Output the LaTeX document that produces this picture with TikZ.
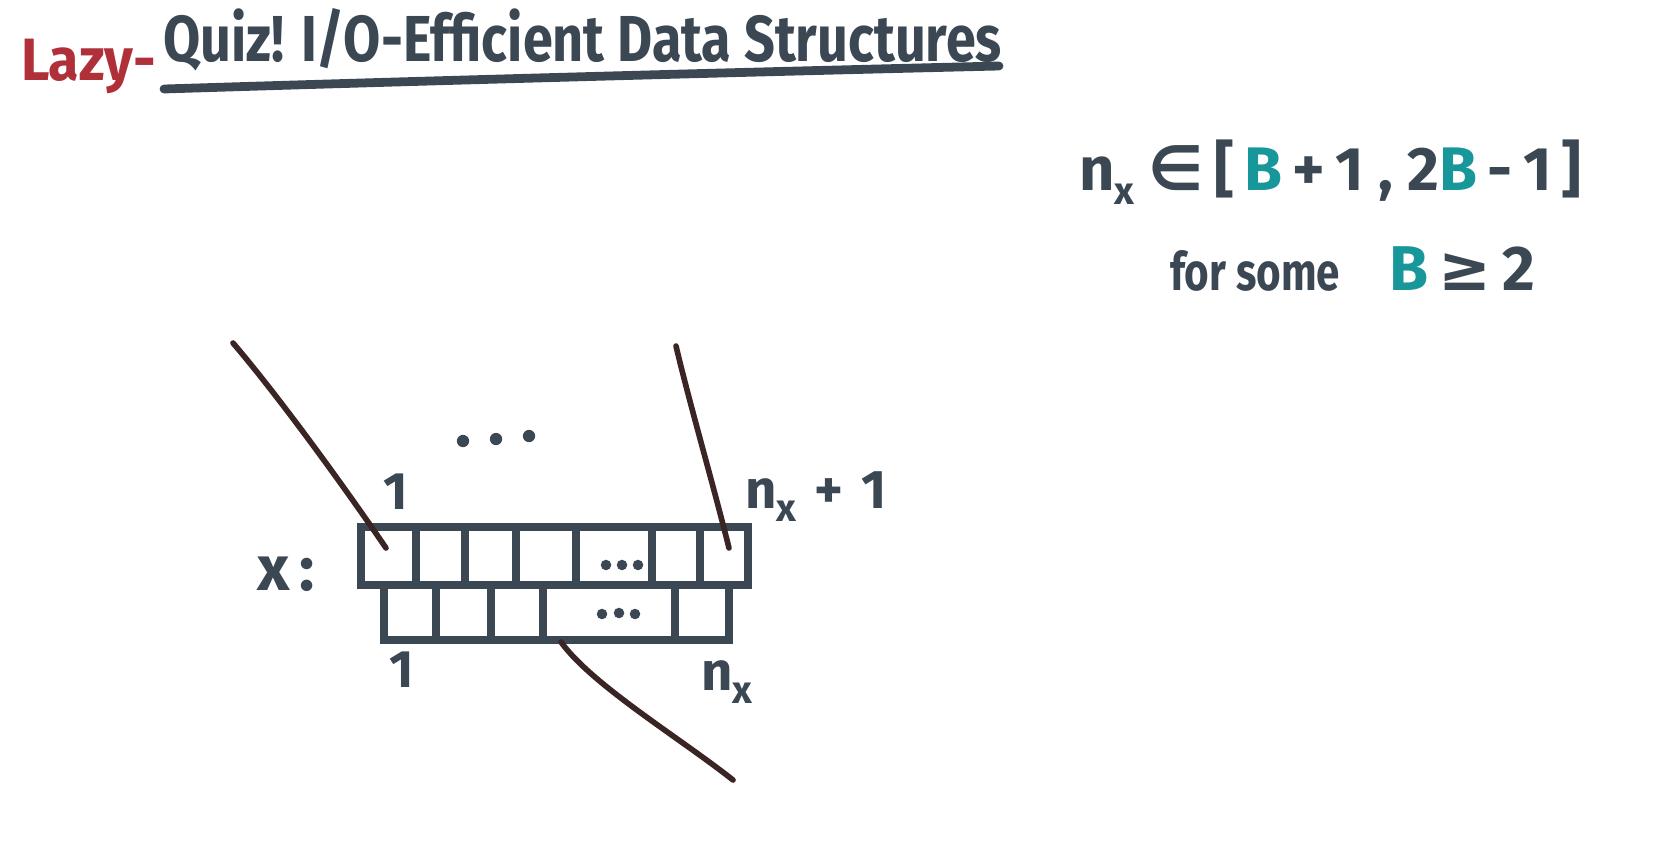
\documentclass[tikz,border=0pt]{standalone}
\usepackage{fontspec}
\setmainfont{Fira Sans}
\newfontfamily\symfont{DejaVu Sans}
\definecolor{ink}{HTML}{3B4753}
\definecolor{redink}{HTML}{B0303A}
\definecolor{tealink}{HTML}{17979A}
\definecolor{brownink}{HTML}{3A2424}
\newcommand{\nxsub}{n\raisebox{-0.45ex}{\fontsize{22}{24}\selectfont x}}
\tikzset{
  txt/.style={text=ink, inner sep=0pt, outer sep=0pt},
  cell/.style={draw=ink, line width=4pt, inner sep=0pt, outer sep=0pt, anchor=north west, text=ink},
  wire/.style={draw=brownink, line width=3.2pt, line cap=round},
  dot/.style={circle, fill=ink, inner sep=0pt, minimum size=6pt},
  bigdot/.style={circle, fill=ink, inner sep=0pt, minimum size=7pt},
}
\begin{document}
\begin{tikzpicture}[x=0.02cm, y=-0.02cm]
\useasboundingbox (0,0) rectangle (1653,856);
% title
\node[txt, text=redink, anchor=base west, font=\bfseries\fontsize{34}{38}\selectfont] (lazy) at (21,80) {\scalebox{0.93}[1]{Lazy-}};
\node[txt, anchor=base west, font=\bfseries\fontsize{37}{42}\selectfont] (title) at (163,61) {\scalebox{0.83}[1]{Quiz! I/O-Efficient Data Structures}};
\coordinate (ulA) at (164,89);
\coordinate (ulB) at (999,66);
\draw[ink, line width=5pt, line cap=round] (ulA) .. controls (450,80) and (750,72) .. (ulB);
% formula
\node[txt, anchor=base west, font=\bfseries\fontsize{35}{44}\selectfont] (f1) at (1079,190)
  {\nxsub\ {\symfont ∈}\,[\,{\color{tealink}B}\,+\,1\ ,\ 2{\color{tealink}B}\,-\,1\,]};
\node[txt, anchor=base west, font=\bfseries\fontsize{36}{44}\selectfont] (f2) at (1170,290)
  {\scalebox{0.8}[1]{\fontsize{30}{34}\selectfont for some}\hspace{28pt}{\color{tealink}B}\,{\symfont ≥}\,2};
% top row
\foreach \n/\a/\b in {1/361/416, 2/416/465, 3/465/516, 4/516/576, 5/576/652, 6/652/700, 7/700/748} {
  \pgfmathsetmacro{\w}{(\b-\a)*0.02}
  \node[cell, minimum width=\w cm, minimum height=1.16cm] (t\n) at (\a,527) {};
}
% bottom row
\foreach \n/\a/\b in {1/384/436, 2/436/491, 3/491/543, 4/543/675, 5/675/729} {
  \pgfmathsetmacro{\w}{(\b-\a)*0.02}
  \node[cell, minimum width=\w cm, minimum height=1.1cm] (b\n) at (\a,585) {};
}
\node[dot] (td1) at (606,565) {};
\node[dot] (td2) at (622,565) {};
\node[dot] (td3) at (638,565) {};
\node[dot] (bd1) at (602,614) {};
\node[dot] (bd2) at (619,613) {};
\node[dot] (bd3) at (635,614) {};
% labels
\node[txt, font=\bfseries\fontsize{30}{34}\selectfont] (one1) at (396,492) {1};
\node[txt, anchor=base west, font=\bfseries\fontsize{31}{34}\selectfont] (nx1) at (745,508) {\nxsub\,\,+\,\,1};
\node[txt, anchor=base west, font=\bfseries\fontsize{36}{40}\selectfont] (xl) at (257,590) {x\,:};
\node[txt, font=\bfseries\fontsize{30}{34}\selectfont] (one2) at (402,670) {1};
\node[txt, anchor=base west, font=\bfseries\fontsize{31}{34}\selectfont] (nx2) at (701,690) {\nxsub};
% dots above
\node[bigdot] (d1) at (463,441) {};
\node[bigdot] (d2) at (496,439) {};
\node[bigdot] (d3) at (529,436) {};
% wires
\coordinate (lw) at (233,343);
\coordinate (rw) at (676,346);
\coordinate (bw) at (733,780);
\coordinate (t1p) at (386,548);
\coordinate (t7p) at (729,548);
\coordinate (b4p) at (561,642);
\draw[wire] (lw) .. controls (280,398) and (345,488) .. (t1p);
\draw[wire] (rw) .. controls (690,405) and (712,480) .. (t7p);
\draw[wire] (b4p) .. controls (592,685) and (680,738) .. (bw);
\end{tikzpicture}
\end{document}
